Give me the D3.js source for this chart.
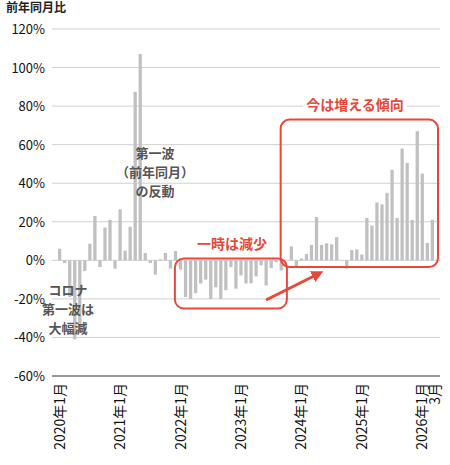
<!DOCTYPE html>
<html><head><meta charset="utf-8">
<script src="https://cdn.jsdelivr.net/npm/d3@7"></script>
<style>body{margin:0;background:#fff}text{font-family:"Noto Sans CJK JP","DejaVu Sans",sans-serif}</style>
</head><body><svg id="c" width="450" height="465"></svg>
<script>
// monthly values, 2020-01 .. 2026-03 (year-on-year %)
const values = [
  6, -1.4, -19, -41, -37.6, -5.5, 8.6, 23, -3.5, 17, 21, -4.3,
  26.5, 5, 17.4, 87.4, 107, 3.8, -1.4, -7.4, 0.5, 3.8, -4.3, 4.8,
  -4.8, -19, -20, -17, -12, -10, -20, -14, -20, -15.5, -3.5, -14.7,
  -7.8, -12, -12, -8.3, -2.6, -13, -4, -1, -5.2, 0, 7.2, -3.4,
  1, 3.3, 8, 22.4, 8, 8.8, 8.3, 12, 0, -4.3, 5.3, 5.7,
  3, 22, 18, 30, 29, 35, 47, 22, 58, 50.5, 21, 67,
  45, 9, 21
];
const months = values.map((v, i) => ({i, y: 2020 + Math.floor(i / 12), m: i % 12 + 1, v}));
const yTicks = [-60, -40, -20, 0, 20, 40, 60, 80, 100, 120];

const svg = d3.select("#c");
const x = d3.scaleBand().domain(months.map(d => d.i)).range([57, 435]).paddingInner(0.35).paddingOuter(0.2);
const y = d3.scaleLinear().domain([-60, 120]).range([376, 29]);

// grid
svg.append("g").selectAll("line").data(yTicks.filter(t => t > -60)).join("line")
  .attr("x1", 52).attr("x2", 440).attr("y1", d => y(d)).attr("y2", d => y(d))
  .attr("stroke", "#d0d0d0").attr("stroke-width", 1);
svg.append("line").attr("x1", 52).attr("x2", 440).attr("y1", y(-60)).attr("y2", y(-60))
  .attr("stroke", "#333");
svg.append("g").selectAll("text").data(yTicks).join("text")
  .attr("x", 45).attr("y", d => y(d) + 5).attr("text-anchor", "end")
  .attr("font-size", 13).attr("fill", "#111").text(d => d + "%");
svg.append("text").attr("x", 6).attr("y", 12).attr("font-size", 12).attr("font-weight", "bold")
  .attr("fill", "#222").text("前年同月比");

// bars
svg.append("g").selectAll("rect").data(months).join("rect")
  .attr("x", d => x(d.i)).attr("width", x.bandwidth())
  .attr("y", d => y(Math.max(0, d.v))).attr("height", d => Math.abs(y(d.v) - y(0)))
  .attr("fill", "#c0c0c0");

// x labels
svg.append("g").selectAll("text").data(months.filter(d => d.m === 1)).join("text")
  .attr("transform", d => `translate(${x(d.i) + x.bandwidth() / 2 + 5},383) rotate(-90)`)
  .attr("text-anchor", "end").attr("font-size", 14).attr("fill", "#111")
  .text(d => d.y + "年" + d.m + "月");
const last = months[months.length - 1];
svg.append("text").attr("transform", `translate(${x(last.i) + 9},383) rotate(-90)`)
  .attr("text-anchor", "end").attr("font-size", 14).attr("fill", "#111").text(last.m + "月");

// annotations
const red = "#e8473a";
function box(i0, i1, v0, v1) {
  svg.append("rect").attr("x", x(i0) - 4).attr("y", y(v1)).attr("width", x(i1) - x(i0) + x.bandwidth() + 8)
    .attr("height", y(v0) - y(v1)).attr("rx", 9).attr("fill", "none").attr("stroke", red).attr("stroke-width", 2);
}
box(24, 44, -25, 1);
box(45, 74, -3.5, 73);
svg.append("defs").append("marker").attr("id", "ah").attr("viewBox", "0 0 10 10").attr("refX", 5).attr("refY", 5)
  .attr("markerWidth", 4).attr("markerHeight", 4).attr("orient", "auto")
  .append("path").attr("d", "M0,0L10,5L0,10z").attr("fill", red);
svg.append("line").attr("x1", 266).attr("y1", 300).attr("x2", 318).attr("y2", 274)
  .attr("stroke", red).attr("stroke-width", 3).attr("marker-end", "url(#ah)");

function label(tx, ty, lines, col, size, bg) {
  lines.forEach((t, k) => {
    const el = svg.append("text").attr("x", tx).attr("y", ty + k * 19).attr("text-anchor", "middle")
      .attr("font-size", size).attr("font-weight", "bold").attr("fill", col).text(t);
    if (bg) {
      const b = el.node().getBBox();
      svg.insert("rect", () => el.node()).attr("x", b.x - 3).attr("y", b.y).attr("width", b.width + 6)
        .attr("height", b.height).attr("fill", "#fff");
    }
  });
}
label(232, 249, ["一時は減少"], red, 14, true);
label(355, 110, ["今は増える傾向"], red, 14, true);
label(68, 295, ["コロナ", "第一波は", "大幅減"], "#555", 13, false);
label(155, 158, ["第一波", "（前年同月）", "の反動"], "#555", 13, false);
</script></body></html>
